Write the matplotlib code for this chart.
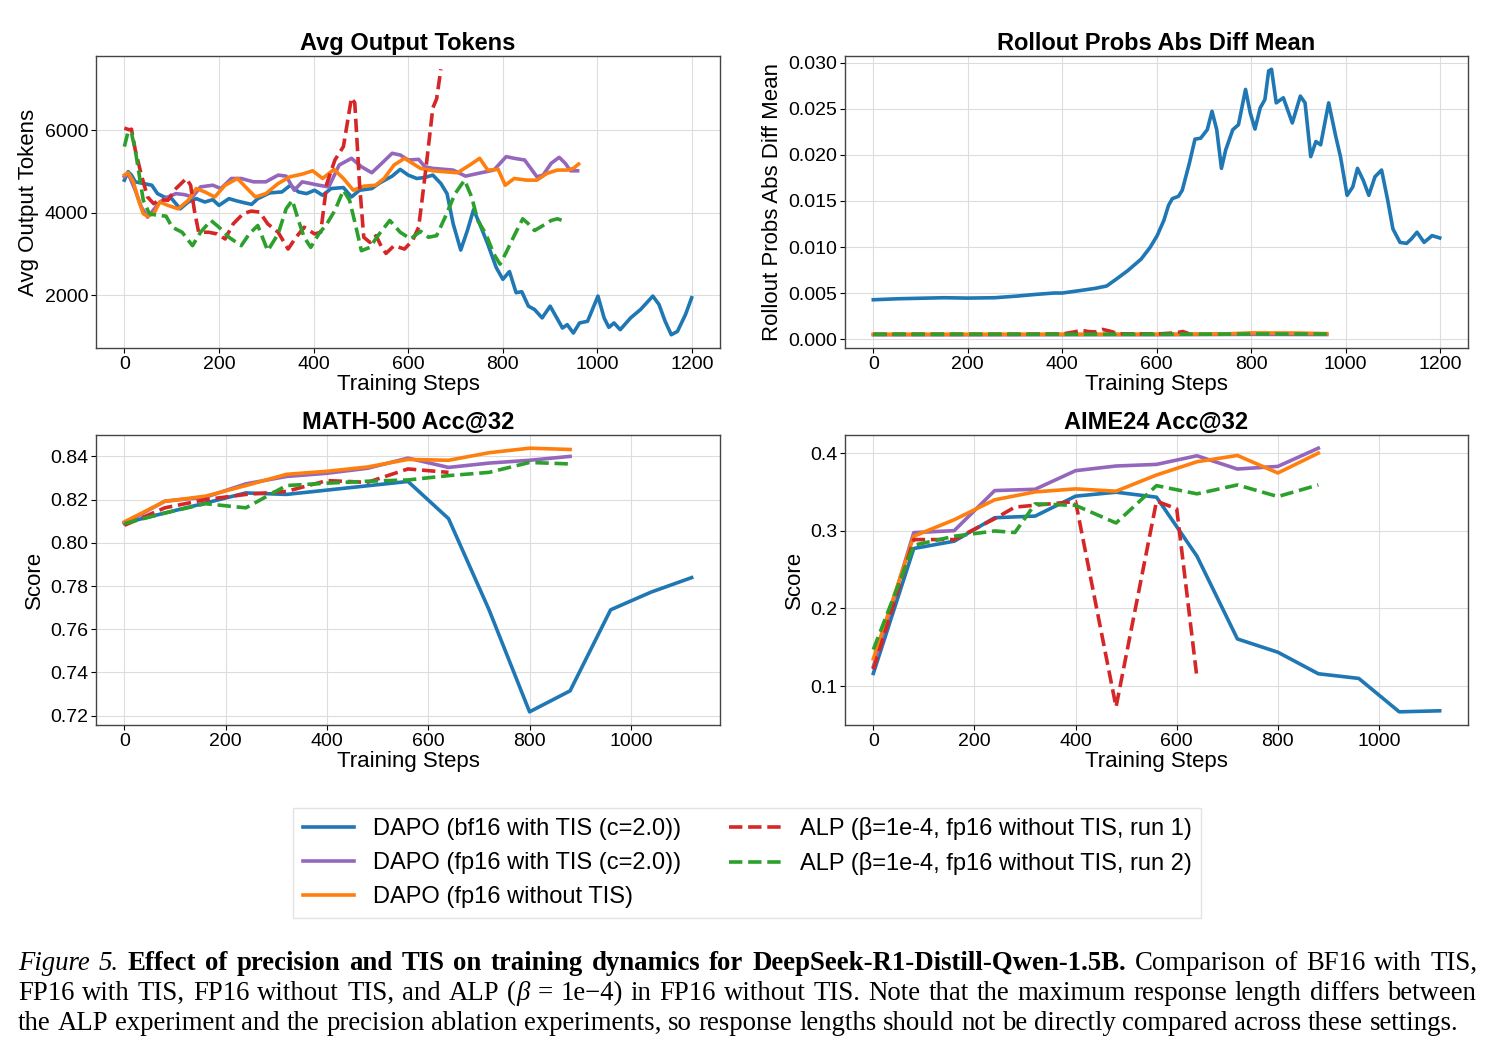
import matplotlib
matplotlib.use("Agg")
import matplotlib.pyplot as plt

plt.rcParams['font.family'] = ['Liberation Sans', 'DejaVu Sans']

# === colours / labels ===
C_BF16 = '#1f77b4'
C_FP16_TIS = '#9467bd'
C_FP16 = '#ff7f0e'
C_ALP1 = '#d62728'
C_ALP2 = '#2ca02c'

labels = ["DAPO (bf16 with TIS (c=2.0))", "DAPO (fp16 with TIS (c=2.0))",
          "DAPO (fp16 without TIS)", "ALP (β=1e-4, fp16 without TIS, run 1)",
          "ALP (β=1e-4, fp16 without TIS, run 2)"]

# === Avg Output Tokens ===
tok_bf16_x = [0, 8, 15, 23, 40, 58, 70, 84, 100, 118, 135, 152, 170, 187, 200, 221, 238, 256, 269,
              282, 307, 333, 351, 368, 385, 402, 419, 437, 463, 480, 497, 523, 540, 566, 583, 600,
              618, 635, 652, 669, 682, 695, 711, 725, 738, 751, 768, 786, 800, 814, 828, 840, 854,
              867, 883, 900, 910, 926, 936, 949, 962, 979, 1001, 1014, 1024, 1035, 1048, 1070,
              1091, 1117, 1130, 1143, 1156, 1169, 1186, 1199]
tok_bf16_y = [4794, 5000, 4917, 4754, 4713, 4672, 4468, 4387, 4346, 4100, 4265, 4346, 4265, 4322,
              4183, 4346, 4290, 4240, 4208, 4346, 4485, 4509, 4672, 4509, 4468, 4550, 4428, 4591,
              4615, 4387, 4550, 4591, 4729, 4892, 5055, 4917, 4835, 4860, 4917, 4713, 4468, 3735,
              3100, 3573, 4078, 3735, 3247, 2676, 2391, 2579, 2066, 2090, 1740, 1658, 1455, 1740,
              1536, 1210, 1291, 1088, 1332, 1373, 1984, 1455, 1226, 1332, 1169, 1455, 1658, 1984,
              1780, 1373, 1047, 1128, 1536, 1943]

tok_fp16_tis_x = [0, 8, 23, 36, 49, 58, 75, 92, 109, 127, 144, 161, 187, 204, 226, 247, 273, 299,
                  325, 342, 359, 376, 411, 432, 454, 480, 501, 523, 544, 566, 583, 600, 622, 635,
                  652, 678, 695, 721, 747, 781, 807, 824, 846, 859, 872, 885, 902, 919, 932, 943, 958]
tok_fp16_tis_y = [4876, 4957, 4550, 4143, 3898, 4020, 4265, 4387, 4468, 4444, 4387, 4631, 4672,
                  4591, 4835, 4835, 4754, 4754, 4917, 4892, 4550, 4754, 4672, 4631, 5161, 5324,
                  5120, 4974, 5202, 5446, 5405, 5283, 5300, 5120, 5080, 5055, 5039, 4892, 4957,
                  5039, 5365, 5324, 5283, 5080, 4876, 4917, 5202, 5348, 5202, 5022, 5022]

tok_fp16_x = [0, 8, 19, 30, 40, 49, 62, 75, 92, 114, 135, 152, 170, 191, 213, 239, 256, 277, 299,
              325, 350, 376, 398, 419, 443, 463, 484, 506, 531, 549, 570, 592, 609, 626, 652, 678,
              704, 730, 751, 768, 790, 805, 824, 850, 872, 893, 915, 936, 949, 960]
tok_fp16_y = [4917, 4974, 4754, 4306, 3980, 3923, 3980, 4265, 4183, 4100, 4306, 4591, 4509, 4387,
              4672, 4835, 4631, 4387, 4468, 4713, 4876, 4941, 5022, 4835, 5055, 4835, 4550, 4648,
              4672, 4835, 5161, 5324, 5202, 5080, 5022, 4998, 4974, 5161, 5324, 5039, 5055, 4672,
              4835, 4795, 4795, 4957, 5039, 5039, 5080, 5185]

tok_alp1_x = [0, 10, 15, 23, 36, 49, 62, 75, 92, 109, 131, 140, 148, 157, 178, 196, 213, 230, 251,
              268, 286, 303, 325, 346, 363, 380, 402, 415, 428, 445, 463, 480, 487, 497, 506, 519,
              532, 544, 553, 570, 592, 609, 622, 630, 639, 652, 660, 669]
tok_alp1_y = [6057, 6016, 6030, 5528, 4917, 4387, 4224, 4322, 4306, 4591, 4835, 4672, 4061, 3532,
              3532, 3491, 3369, 3735, 3980, 4045, 4020, 3735, 3532, 3124, 3410, 3654, 3491, 3532,
              4713, 5283, 5609, 6790, 6668, 4713, 3410, 3287, 3450, 3165, 3018, 3206, 3124, 3328,
              3654, 4387, 5242, 6546, 6766, 7483]

tok_alp2_x = [0, 8, 15, 23, 32, 40, 53, 71, 88, 101, 122, 144, 161, 183, 200, 221, 247, 264, 282,
              303, 325, 342, 355, 368, 380, 394, 411, 428, 445, 463, 476, 488, 501, 519, 536, 561,
              583, 605, 626, 643, 660, 678, 699, 719, 734, 747, 764, 781, 794, 807, 824, 842, 854,
              867, 885, 902, 915, 926]
tok_alp2_y = [5609, 5976, 5935, 5528, 4876, 4306, 3980, 3939, 3923, 3654, 3532, 3206, 3532, 3817,
              3654, 3410, 3206, 3491, 3695, 3084, 3491, 4102, 4306, 3817, 3410, 3165, 3491, 3735,
              4061, 4550, 4306, 3735, 3084, 3165, 3450, 3817, 3532, 3369, 3556, 3410, 3450, 3898,
              4468, 4794, 4387, 3817, 3491, 3002, 2758, 3043, 3450, 3858, 3735, 3573, 3695, 3817,
              3858, 3817]

# === Rollout Probs Abs Diff Mean ===
prob_bf16_x = [0, 53, 150, 200, 257, 305, 344, 383, 400, 441, 470, 494, 514, 538, 567, 586, 601,
               615, 625, 633, 646, 654, 669, 681, 693, 707, 717, 727, 737, 746, 761, 773, 788, 798,
               808, 819, 829, 837, 843, 853, 868, 887, 904, 914, 926, 937, 947, 964, 979, 989,
               1003, 1015, 1025, 1037, 1049, 1062, 1076, 1089, 1100, 1115, 1129, 1139, 1151, 1166,
               1183, 1199]
prob_bf16_y = [0.00429, 0.00440, 0.00451, 0.00447, 0.00451, 0.00469, 0.00487, 0.00502, 0.00502,
               0.00531, 0.00553, 0.00578, 0.00651, 0.00742, 0.00870, 0.00997, 0.01125, 0.01288,
               0.01452, 0.01525, 0.01550, 0.01616, 0.01907, 0.02170, 0.02180, 0.02272, 0.02472,
               0.02272, 0.01853, 0.02053, 0.02272, 0.02326, 0.02709, 0.02454, 0.02279, 0.02508,
               0.02599, 0.02909, 0.02927, 0.02563, 0.02618, 0.02345, 0.02636, 0.02563, 0.01980,
               0.02144, 0.02108, 0.02563, 0.02199, 0.01980, 0.01561, 0.01652, 0.01853, 0.01726,
               0.01561, 0.01762, 0.01835, 0.01507, 0.01197, 0.01051, 0.01040, 0.01088, 0.01161,
               0.01051, 0.01124, 0.01099]

prob_fp16_tis_x = [0, 200, 400, 600, 800, 960]
prob_fp16_tis_y = [0.00050, 0.00050, 0.00050, 0.00050, 0.00054, 0.00052]

prob_fp16_x = [0, 200, 400, 600, 750, 800, 900, 960]
prob_fp16_y = [0.00055, 0.00055, 0.00056, 0.00056, 0.00060, 0.00070, 0.00068, 0.00062]

prob_alp1_x = [0, 100, 200, 300, 400, 425, 440, 455, 470, 485, 500, 520, 600, 640, 655, 669]
prob_alp1_y = [0.00055, 0.00055, 0.00055, 0.00055, 0.00058, 0.00080, 0.00098, 0.00085, 0.00080,
               0.00108, 0.00090, 0.00060, 0.00058, 0.00070, 0.00085, 0.00060]

prob_alp2_x = [0, 200, 400, 600, 800, 960]
prob_alp2_y = [0.00054, 0.00054, 0.00055, 0.00055, 0.00058, 0.00058]

# === MATH-500 Acc@32 ===
eval_x = [0, 80, 160, 240, 320, 400, 480, 560, 640, 720, 800, 880, 960, 1040, 1120]
math_bf16 = [0.8092, 0.8138, 0.8184, 0.8231, 0.8224, 0.8244, 0.8264, 0.8284, 0.8112, 0.7690,
             0.7218, 0.7315, 0.7690, 0.7772, 0.7839]
math_fp16_tis = [0.8090, 0.8193, 0.8211, 0.8273, 0.8307, 0.8322, 0.8345, 0.8392, 0.8349, 0.8369,
                 0.8382, 0.8400]
math_fp16 = [0.8097, 0.8192, 0.8216, 0.8265, 0.8317, 0.8331, 0.8351, 0.8386, 0.8382, 0.8417,
             0.8438, 0.8432]
math_alp1 = [0.8081, 0.8162, 0.8200, 0.8224, 0.8238, 0.8288, 0.8280, 0.8342, 0.8326]
math_alp2 = [0.8089, 0.8138, 0.8181, 0.8162, 0.8265, 0.8276, 0.8285, 0.8291, 0.8311, 0.8326,
             0.8372, 0.8365]

# === AIME24 Acc@32 ===
aime_bf16 = [0.1162, 0.2774, 0.2868, 0.3171, 0.3192, 0.3449, 0.3500, 0.3436, 0.2675, 0.1607,
             0.1436, 0.1158, 0.1098, 0.0667, 0.0680]
aime_fp16_tis = [0.1250, 0.2979, 0.3004, 0.3521, 0.3538, 0.3778, 0.3838, 0.3859, 0.3970, 0.3799,
                 0.3833, 0.4068]
aime_fp16 = [0.1350, 0.2932, 0.3145, 0.3402, 0.3504, 0.3543, 0.3513, 0.3722, 0.3893, 0.3974,
             0.3748, 0.4004]
aime_alp1_x = [0, 80, 160, 240, 280, 400, 480, 560, 600, 640]
aime_alp1 = [0.1214, 0.2889, 0.2889, 0.3158, 0.3308, 0.3380, 0.0730, 0.3385, 0.3286, 0.1107]
aime_alp2_x = [0, 80, 160, 240, 280, 320, 400, 480, 560, 640, 720, 800, 880]
aime_alp2 = [0.1470, 0.2816, 0.2932, 0.3000, 0.2980, 0.3350, 0.3330, 0.3103, 0.3585, 0.3479,
             0.3594, 0.3444, 0.3594]

LW = 2.6
TICK_FS = 14
LABEL_FS = 16
TITLE_FS = 17

fig = plt.figure(figsize=(14.94, 10.53), dpi=100)
W, H = 1494.0, 1053.0


def make_ax(left, top, right, bottom):
    return fig.add_axes([left / W, 1 - bottom / H, (right - left) / W, (bottom - top) / H])


ax_tok = make_ax(96, 56, 720, 348)
ax_prob = make_ax(845, 56, 1468, 348)
ax_math = make_ax(96, 435, 720, 725)
ax_aime = make_ax(845, 435, 1468, 725)

# Avg Output Tokens
ax_tok.plot(tok_bf16_x, tok_bf16_y, color=C_BF16, lw=LW)
ax_tok.plot(tok_fp16_tis_x, tok_fp16_tis_y, color=C_FP16_TIS, lw=LW)
ax_tok.plot(tok_fp16_x, tok_fp16_y, color=C_FP16, lw=LW)
ax_tok.plot(tok_alp1_x, tok_alp1_y, color=C_ALP1, lw=LW, ls='--')
ax_tok.plot(tok_alp2_x, tok_alp2_y, color=C_ALP2, lw=LW, ls='--')
ax_tok.set_title("Avg Output Tokens", fontsize=TITLE_FS, fontweight='bold', pad=4)
ax_tok.set_ylabel("Avg Output Tokens", fontsize=LABEL_FS)
ax_tok.set_xlabel("Training Steps", fontsize=LABEL_FS, labelpad=1)
ax_tok.set_xticks(range(0, 1201, 200))
ax_tok.set_yticks([2000, 4000, 6000])

# Rollout probs
ax_prob.plot(prob_bf16_x, prob_bf16_y, color=C_BF16, lw=LW)
ax_prob.plot(prob_fp16_tis_x, prob_fp16_tis_y, color=C_FP16_TIS, lw=LW)
ax_prob.plot(prob_fp16_x, prob_fp16_y, color=C_FP16, lw=LW)
ax_prob.plot(prob_alp1_x, prob_alp1_y, color=C_ALP1, lw=LW, ls='--')
ax_prob.plot(prob_alp2_x, prob_alp2_y, color=C_ALP2, lw=LW, ls='--')
ax_prob.set_title("Rollout Probs Abs Diff Mean", fontsize=TITLE_FS, fontweight='bold', pad=4)
ax_prob.set_ylabel("Rollout Probs Abs Diff Mean", fontsize=LABEL_FS)
ax_prob.set_xlabel("Training Steps", fontsize=LABEL_FS, labelpad=1)
ax_prob.set_xticks(range(0, 1201, 200))
ax_prob.set_yticks([0.000, 0.005, 0.010, 0.015, 0.020, 0.025, 0.030])
ax_prob.yaxis.set_major_formatter(matplotlib.ticker.FormatStrFormatter('%.3f'))

# MATH-500
ax_math.plot(eval_x[:len(math_bf16)], math_bf16, color=C_BF16, lw=LW)
ax_math.plot(eval_x[:len(math_fp16_tis)], math_fp16_tis, color=C_FP16_TIS, lw=LW)
ax_math.plot(eval_x[:len(math_fp16)], math_fp16, color=C_FP16, lw=LW)
ax_math.plot(eval_x[:len(math_alp1)], math_alp1, color=C_ALP1, lw=LW, ls='--')
ax_math.plot(eval_x[:len(math_alp2)], math_alp2, color=C_ALP2, lw=LW, ls='--')
ax_math.set_title("MATH-500 Acc@32", fontsize=TITLE_FS, fontweight='bold', pad=4)
ax_math.set_ylabel("Score", fontsize=LABEL_FS)
ax_math.set_xlabel("Training Steps", fontsize=LABEL_FS, labelpad=1)
ax_math.set_xticks(range(0, 1001, 200))
ax_math.set_yticks([0.72, 0.74, 0.76, 0.78, 0.80, 0.82, 0.84])

# AIME24
ax_aime.plot(eval_x[:len(aime_bf16)], aime_bf16, color=C_BF16, lw=LW)
ax_aime.plot(eval_x[:len(aime_fp16_tis)], aime_fp16_tis, color=C_FP16_TIS, lw=LW)
ax_aime.plot(eval_x[:len(aime_fp16)], aime_fp16, color=C_FP16, lw=LW)
ax_aime.plot(aime_alp1_x, aime_alp1, color=C_ALP1, lw=LW, ls='--')
ax_aime.plot(aime_alp2_x, aime_alp2, color=C_ALP2, lw=LW, ls='--')
ax_aime.set_title("AIME24 Acc@32", fontsize=TITLE_FS, fontweight='bold', pad=4)
ax_aime.set_ylabel("Score", fontsize=LABEL_FS)
ax_aime.set_xlabel("Training Steps", fontsize=LABEL_FS, labelpad=1)
ax_aime.set_xticks(range(0, 1001, 200))
ax_aime.set_yticks([0.1, 0.2, 0.3, 0.4])

for ax in (ax_tok, ax_prob, ax_math, ax_aime):
    ax.grid(True, color='#dddddd', lw=0.8)
    ax.set_axisbelow(True)
    ax.tick_params(labelsize=TICK_FS, pad=2)
    for sp in ax.spines.values():
        sp.set_color('#444444')
        sp.set_linewidth(1.0)

# legend
handles = ax_tok.get_lines()
fig.legend(handles, labels, loc='upper center', bbox_to_anchor=(0.5, 1 - 808 / H),
           ncol=2, fontsize=17, handlelength=2.2, borderaxespad=0, frameon=True,
           fancybox=False, edgecolor='#dddddd')

# caption: words with (text, style, weight) runs, lines 1-2 justified
CAP_FS = 19.3
serif = ['Liberation Serif', 'DejaVu Serif']
I, N, B = ('italic', 'normal'), ('normal', 'normal'), ('normal', 'bold')


def words(s, fmt):
    return [[(w, fmt)] for w in s.split()]


line1 = (words("Figure 5.", I)
         + words("Effect of precision and TIS on training dynamics for DeepSeek-R1-Distill-Qwen-1.5B.", B)
         + words("Comparison of BF16 with TIS,", N))
line2 = (words("FP16 with TIS, FP16 without TIS, and ALP", N)
         + [[("(", N), ("β", I)]] + words("= 1e\u22124) in FP16 without TIS. Note that the maximum"
                                           " response length differs between", N))
line3 = words("the ALP experiment and the precision ablation experiments, so response lengths"
              " should not be directly compared across these settings.", N)

renderer = fig.canvas.get_renderer()


def put_line(line, base, right=None):
    # measure every word first
    placed = []
    total = 0.0
    for word in line:
        runs = []
        for txt, (style, weight) in word:
            t = fig.text(0, 1 - base / H, txt, fontsize=CAP_FS, family=serif, style=style,
                         fontweight=weight, ha='left', va='baseline')
            w = t.get_window_extent(renderer=renderer).width
            runs.append((t, w))
            total += w
        placed.append(runs)
    if right is None:
        gap = 0.25 * CAP_FS * 100 / 72
    else:
        gap = (right - 18 - total) / (len(placed) - 1)
    x = 18.0
    for runs in placed:
        for t, w in runs:
            t.set_x(x / W)
            x += w
        x += gap


put_line(line1, 970, right=1478)
put_line(line2, 1000, right=1476)
put_line(line3, 1030)

fig.savefig("out.png", dpi=100)
